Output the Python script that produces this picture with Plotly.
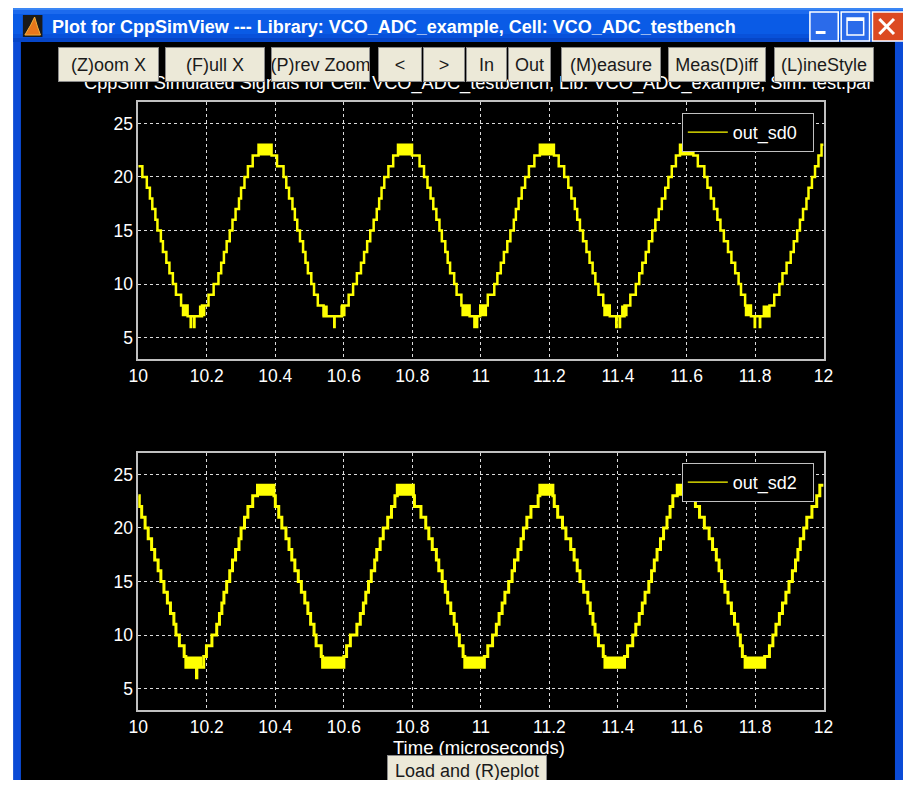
import plotly.graph_objects as go

# The page keeps the browser's default 8px body margin, so the figure is drawn
# 16px smaller than the 911x788 window and all chrome positions are given in
# window pixels, then shifted by that margin.
WIN_W, WIN_H = 911, 788
OFF = 8
W, H = WIN_W - 2 * OFF, WIN_H - 2 * OFF

# ---------------- data ----------------
x_tick_vals = [10, 10.2, 10.4, 10.6, 10.8, 11, 11.2, 11.4, 11.6, 11.8, 12]
x_tick_text = ["10", "10.2", "10.4", "10.6", "10.8", "11", "11.2", "11.4", "11.6", "11.8", "12"]
y_tick_vals = [5, 10, 15, 20, 25]

# out_sd0: step start times (microseconds) and levels
sd0_time = [
    10.000, 10.012, 10.025, 10.034, 10.041, 10.050, 10.056, 10.066, 10.072, 10.082, 10.091, 10.101, 10.110, 10.125, 10.144,
    10.153, 10.154, 10.163, 10.164,
    10.186, 10.205, 10.220, 10.234, 10.242, 10.250, 10.258, 10.267, 10.275, 10.284, 10.294, 10.300, 10.310, 10.320, 10.334,
    10.351, 10.389,
    10.405, 10.424, 10.432, 10.440, 10.450, 10.457, 10.464, 10.472, 10.481, 10.488, 10.495, 10.505, 10.513, 10.524, 10.541,
    10.572, 10.573,
    10.595, 10.614, 10.627, 10.638, 10.650, 10.659, 10.668, 10.677, 10.687, 10.696, 10.703, 10.710, 10.718, 10.730, 10.744,
    10.758, 10.799,
    10.821, 10.834, 10.844, 10.853, 10.861, 10.870, 10.879, 10.886, 10.896, 10.903, 10.910, 10.922, 10.929, 10.943, 10.967,
    10.981, 10.982, 10.988, 10.989,
    10.998, 11.020, 11.039, 11.048, 11.058, 11.067, 11.077, 11.086, 11.096, 11.102, 11.110, 11.119, 11.129, 11.140, 11.156,
    11.172, 11.213,
    11.227, 11.243, 11.255, 11.264, 11.274, 11.281, 11.289, 11.298, 11.308, 11.317, 11.326, 11.334, 11.343, 11.357, 11.376,
    11.395, 11.396, 11.405, 11.406,
    11.419, 11.436, 11.452, 11.462, 11.471, 11.481, 11.490, 11.500, 11.509, 11.519, 11.528, 11.538, 11.547, 11.557, 11.569,
    11.581, 11.620,
    11.633, 11.652, 11.661, 11.671, 11.680, 11.690, 11.699, 11.709, 11.721, 11.731, 11.742, 11.752, 11.759, 11.771, 11.788,
    11.799, 11.800, 11.814, 11.815,
    11.842, 11.856, 11.871, 11.880, 11.892, 11.904, 11.913, 11.923, 11.931, 11.940, 11.950, 11.956, 11.966, 11.975, 11.985, 11.994,
    12.000,
]
sd0_level = [
    21, 20, 19, 18, 17, 16, 15, 14, 13, 12, 11, 10, 9, 8, 7,
    6, 7, 6, 7,
    8, 9, 10, 11, 12, 13, 14, 15, 16, 17, 18, 19, 20, 21, 22,
    23, 22,
    21, 20, 19, 18, 17, 16, 15, 14, 13, 12, 11, 10, 9, 8, 7,
    6, 7,
    8, 9, 10, 11, 12, 13, 14, 15, 16, 17, 18, 19, 20, 21, 22,
    23, 22,
    21, 20, 19, 18, 17, 16, 15, 14, 13, 12, 11, 10, 9, 8, 7,
    6, 7, 6, 7,
    8, 9, 10, 11, 12, 13, 14, 15, 16, 17, 18, 19, 20, 21, 22,
    23, 22,
    21, 20, 19, 18, 17, 16, 15, 14, 13, 12, 11, 10, 9, 8, 7,
    6, 7, 6, 7,
    8, 9, 10, 11, 12, 13, 14, 15, 16, 17, 18, 19, 20, 21, 22,
    23, 22,
    21, 20, 19, 18, 17, 16, 15, 14, 13, 12, 11, 10, 9, 8, 7,
    6, 7, 6, 7,
    8, 9, 10, 11, 12, 13, 14, 15, 16, 17, 18, 19, 20, 21, 22, 23,
    23,
]
# regions where out_sd0 toggles quickly between two levels
sd0_blk_start = [10.351, 10.758, 11.172, 11.581, 10.127, 10.177, 10.538, 10.590, 10.943, 10.998, 11.357, 11.409, 11.770, 11.822]
sd0_blk_end = [10.389, 10.799, 11.213, 11.620, 10.144, 10.196, 10.553, 10.605, 10.967, 11.018, 11.376, 11.428, 11.788, 11.842]
sd0_blk_low = [22, 22, 22, 22, 7, 7, 7, 7, 7, 7, 7, 7, 7, 7]
sd0_blk_high = [23, 23, 23, 23, 8, 8, 8, 8, 8, 8, 8, 8, 8, 8]

# out_sd2: step start times (microseconds) and levels
sd2_time = [
    10.000, 10.003, 10.010, 10.020, 10.029, 10.039, 10.048, 10.058, 10.066, 10.075, 10.085, 10.094, 10.104, 10.110, 10.120, 10.134, 10.139,
    10.170, 10.171,
    10.191, 10.199, 10.215, 10.229, 10.237, 10.244, 10.250, 10.258, 10.267, 10.275, 10.284, 10.294, 10.300, 10.310, 10.320, 10.334,
    10.348, 10.396,
    10.400, 10.410, 10.419, 10.431, 10.440, 10.448, 10.457, 10.467, 10.476, 10.486, 10.495, 10.503, 10.513, 10.519, 10.534, 10.538,
    10.600, 10.608, 10.619, 10.638, 10.648, 10.657, 10.664, 10.672, 10.680, 10.690, 10.696, 10.706, 10.715, 10.728, 10.739, 10.749,
    10.756, 10.803,
    10.806, 10.825, 10.839, 10.848, 10.858, 10.870, 10.877, 10.887, 10.896, 10.903, 10.912, 10.922, 10.929, 10.937, 10.948, 10.953,
    11.010, 11.020, 11.034, 11.045, 11.053, 11.062, 11.070, 11.081, 11.091, 11.098, 11.108, 11.117, 11.124, 11.134, 11.146, 11.167,
    11.172, 11.210,
    11.214, 11.224, 11.238, 11.248, 11.262, 11.272, 11.281, 11.289, 11.300, 11.312, 11.319, 11.327, 11.333, 11.343, 11.357, 11.362,
    11.419, 11.428, 11.443, 11.452, 11.462, 11.471, 11.479, 11.490, 11.498, 11.506, 11.514, 11.524, 11.533, 11.543, 11.552, 11.560,
    11.573, 11.623,
    11.626, 11.638, 11.652, 11.666, 11.676, 11.687, 11.695, 11.702, 11.712, 11.721, 11.731, 11.740, 11.750, 11.757, 11.763, 11.771,
    11.828, 11.842, 11.852, 11.861, 11.871, 11.880, 11.890, 11.899, 11.909, 11.918, 11.925, 11.932, 11.942, 11.951, 11.966, 11.980, 11.989,
    12.000,
]
sd2_level = [
    23, 22, 21, 20, 19, 18, 17, 16, 15, 14, 13, 12, 11, 10, 9, 8, 7,
    6, 7,
    8, 9, 10, 11, 12, 13, 14, 15, 16, 17, 18, 19, 20, 21, 22, 23,
    24, 23,
    22, 21, 20, 19, 18, 17, 16, 15, 14, 13, 12, 11, 10, 9, 8, 7,
    8, 9, 10, 11, 12, 13, 14, 15, 16, 17, 18, 19, 20, 21, 22, 23,
    24, 23,
    22, 21, 20, 19, 18, 17, 16, 15, 14, 13, 12, 11, 10, 9, 8, 7,
    8, 9, 10, 11, 12, 13, 14, 15, 16, 17, 18, 19, 20, 21, 22, 23,
    24, 23,
    22, 21, 20, 19, 18, 17, 16, 15, 14, 13, 12, 11, 10, 9, 8, 7,
    8, 9, 10, 11, 12, 13, 14, 15, 16, 17, 18, 19, 20, 21, 22, 23,
    24, 23,
    22, 21, 20, 19, 18, 17, 16, 15, 14, 13, 12, 11, 10, 9, 8, 7,
    8, 9, 10, 11, 12, 13, 14, 15, 16, 17, 18, 19, 20, 21, 22, 23, 24,
    24,
]
sd2_blk_start = [10.348, 10.756, 11.172, 11.573, 10.139, 10.538, 10.953, 11.362, 11.771]
sd2_blk_end = [10.396, 10.803, 11.210, 11.623, 10.186, 10.600, 11.010, 11.419, 11.828]
sd2_blk_low = [23, 23, 23, 23, 7, 7, 7, 7, 7]
sd2_blk_high = [24, 24, 24, 24, 8, 8, 8, 8, 8]

window_title = "Plot for CppSimView --- Library: VCO_ADC_example, Cell: VCO_ADC_testbench"
plot_title = "CppSim Simulated Signals for Cell: VCO_ADC_testbench, Lib: VCO_ADC_example, Sim: test.par"
x_label = "Time (microseconds)"
button_labels = ["(Z)oom X", "(F)ull X", "(P)rev Zoom", "<", ">", "In", "Out", "(M)easure", "Meas(D)iff", "(L)ineStyle"]

assert len(sd0_time) == len(sd0_level)
assert len(sd2_time) == len(sd2_level)

# ---------------- helpers ----------------
FONT = "Liberation Sans, Arial, Helvetica, sans-serif"
YEL = "#FFFF00"


def px(x):  # window pixel -> paper fraction
    return (x - OFF) / W


def py(y):
    return 1 - (y - OFF) / H


def blocks_xy(t0s, t1s, lows, highs):
    xs, ys = [], []
    for a, b, lo, hi in zip(t0s, t1s, lows, highs):
        xs += [a, b, b, a, a, None]
        ys += [lo, lo, hi, hi, lo, None]
    return xs, ys


fig = go.Figure()


def add_signal(times, levels, b0, b1, blo, bhi, name, width, xa, ya, leg):
    bx, by = blocks_xy(b0, b1, blo, bhi)
    fig.add_trace(go.Scatter(x=bx, y=by, mode="lines", fill="toself", fillcolor=YEL,
                             line=dict(width=0, color=YEL), showlegend=False, hoverinfo="skip",
                             xaxis=xa, yaxis=ya))
    fig.add_trace(go.Scatter(x=times, y=levels, mode="lines", name=name, showlegend=False,
                             line=dict(color=YEL, width=width, shape="hv", simplify=False),
                             xaxis=xa, yaxis=ya))
    # legend entry (thin line sample, as in the reference)
    fig.add_trace(go.Scatter(x=[None], y=[None], mode="lines", name=name + "\u00a0\u00a0",
                             line=dict(color=YEL, width=1.3), xaxis=xa, yaxis=ya, legend=leg))


add_signal(sd0_time, sd0_level, sd0_blk_start, sd0_blk_end, sd0_blk_low, sd0_blk_high,
           "out_sd0", 2.5, "x", "y", "legend")
add_signal(sd2_time, sd2_level, sd2_blk_start, sd2_blk_end, sd2_blk_low, sd2_blk_high,
           "out_sd2", 3, "x2", "y2", "legend2")

axis_common = dict(
    showgrid=True, gridcolor="#dcdcdc", gridwidth=1, griddash="3px,3px",
    showline=True, mirror=True, linecolor="#c0c0c0", linewidth=1.5,
    zeroline=False, ticks="", tickfont=dict(color="white", size=17.5, family=FONT),
    fixedrange=True,
)
xdom = [px(131), px(832)]
fig.update_layout(
    xaxis=dict(domain=xdom, anchor="y", range=[10, 12], tickvals=x_tick_vals, ticktext=x_tick_text, **axis_common),
    yaxis=dict(domain=[py(359), py(102)], anchor="x", range=[3, 27], tickvals=y_tick_vals, **axis_common),
    xaxis2=dict(domain=xdom, anchor="y2", range=[10, 12], tickvals=x_tick_vals, ticktext=x_tick_text, **axis_common),
    yaxis2=dict(domain=[py(710), py(453)], anchor="x2", range=[3, 27], tickvals=y_tick_vals, **axis_common),
)

legend_common = dict(xanchor="right", yanchor="top", bgcolor="black", bordercolor="#c0c0c0", borderwidth=1,
                     font=dict(color="white", size=18, family=FONT), itemwidth=40)
fig.update_layout(
    legend=dict(x=px(822), y=py(113), **legend_common),
    legend2=dict(x=px(822), y=py(463), **legend_common),
)

# ---------------- window chrome ----------------
shapes = []


def rect(x0, y0, x1, y1, fill, line_color=None, lw=0):
    shapes.append(dict(type="rect", xref="paper", yref="paper", x0=px(x0), x1=px(x1), y0=py(y1), y1=py(y0),
                       fillcolor=fill, line=dict(color=line_color or fill, width=lw), layer="below"))


def seg(x0, y0, x1, y1, color, lw):
    shapes.append(dict(type="line", xref="paper", yref="paper", x0=px(x0), x1=px(x1), y0=py(y0), y1=py(y1),
                       line=dict(color=color, width=lw), layer="below"))


rect(3, 8, 915, 792, "#0B4BD6")
rect(11, 42, 905, 792, "black")
# title bar bands
rect(3, 8, 915, 10, "#3A86F4")
rect(3, 10, 915, 14, "#1C6AEE")
rect(3, 14, 915, 34, "#0A5BE6")
rect(3, 34, 915, 38, "#0851DA")
rect(3, 38, 915, 42, "#0646C8")
# matlab icon
rect(13, 15, 33, 37, "#1a1a1a")
shapes.append(dict(type="path", xref="paper", yref="paper", layer="below",
                   path=f"M{px(15)},{py(35)} L{px(21)},{py(25)} L{px(25)},{py(17)} L{px(28)},{py(27)} L{px(31)},{py(35)} Z",
                   fillcolor="#E8771B", line=dict(color="#F4B13B", width=1)))
# minimize / maximize / close
rect(818, 12, 847, 41, "#2B6BEA", "white", 1.5)
rect(824, 31, 834, 34, "white")
rect(850, 12, 879, 41, "#2B6BEA", "white", 1.5)
rect(856, 18, 873, 35, "#2B6BEA", "white", 1.5)
rect(856, 18, 873, 21, "white")
rect(882, 12, 915, 41, "#DC4A22", "white", 1.5)
seg(889, 19, 904, 34, "white", 3)
seg(904, 19, 889, 34, "white", 3)

annotations = [
    dict(text=window_title, x=px(41), y=py(27), xref="paper", yref="paper", xanchor="left", yanchor="middle",
         showarrow=False, font=dict(color="white", size=18, family=FONT, weight="bold")),
    dict(text=plot_title, x=px(479), y=py(83), xref="paper", yref="paper", xanchor="center", yanchor="middle",
         showarrow=False, font=dict(color="white", size=18.2, family=FONT)),
    dict(text=x_label, x=px(480), y=py(747), xref="paper", yref="paper", xanchor="center", yanchor="middle",
         showarrow=False, font=dict(color="white", size=18.5, family=FONT)),
]

button_x = [(49, 150), (158, 258), (267, 366), (376, 420), (422, 464), (466, 507), (509, 552),
            (563, 663), (673, 771), (781, 881)]


def button(label, x0, x1, y0, y1):
    return dict(text=label, x=px(x0), y=py(y0), xref="paper", yref="paper", xanchor="left", yanchor="top",
                showarrow=False, width=x1 - x0 - 2, height=y1 - y0 - 2, borderpad=0, borderwidth=1,
                bordercolor="#8a8a8a", bgcolor="#ECE9D8", align="center", valign="middle",
                font=dict(color="#1a1a1a", size=18, family=FONT))


for lab, (a, b) in zip(button_labels, button_x):
    annotations.append(button(lab, a, b, 47, 82))
annotations.append(button("Load and (R)eplot", 385, 545, 755, 786))

fig.update_layout(
    width=W, height=H, autosize=False,
    margin=dict(l=0, r=0, t=0, b=0),
    paper_bgcolor="white", plot_bgcolor="black",
    shapes=shapes, annotations=annotations,
    showlegend=True, hovermode=False,
)

fig.write_html("out.html", config={"displayModeBar": False})
